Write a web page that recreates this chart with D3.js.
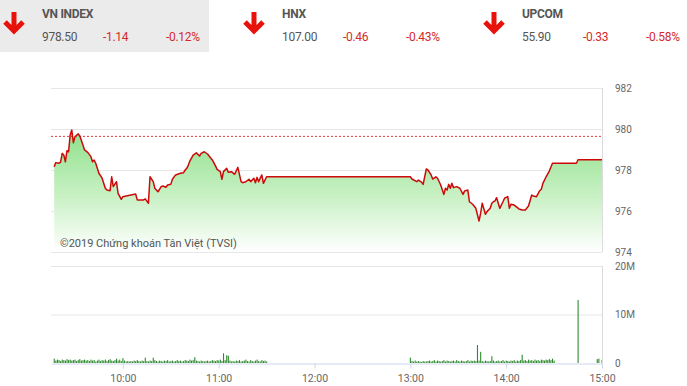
<!DOCTYPE html>
<html lang="vi">
<head>
<meta charset="UTF-8">
<title>VN INDEX</title>
<script src="https://cdn.jsdelivr.net/npm/d3@7"></script>
<style>
    body { margin: 0; background: #fff; font-family: Roboto, Arial, sans-serif; }
    svg { display: block; }
</style>
</head>
<body>
<svg id="chart" width="687" height="386"></svg>
<script>
// header quotes
const indexNames = ["VN INDEX", "HNX", "UPCOM"];
const indexValues = ["978.50", "107.00", "55.90"];
const indexChanges = ["-1.14", "-0.46", "-0.33"];
const indexPercents = ["-0.12%", "-0.43%", "-0.58%"];

// intraday VN-Index
const priceTimes = ["9:17","9:18","9:20","9:21","9:22","9:23","9:24","9:25","9:26","9:27","9:28","9:29","9:30","9:32","9:33","9:35","9:36","9:38","9:40","9:41","9:42","9:43","9:45","9:47","9:49","9:50","9:52","9:53","9:54","9:56","9:57","9:59",
  "10:00","10:02","10:05","10:08","10:09","10:13","10:14","10:16","10:17","10:19","10:20","10:22","10:24","10:25","10:27","10:28","10:30","10:31","10:33","10:36","10:38","10:39","10:40","10:41","10:42","10:44","10:46","10:48","10:49","10:51","10:53","10:56","10:58","10:59",
  "11:01","11:02","11:03","11:05","11:06","11:08","11:10","11:12","11:14","11:15","11:17","11:19","11:20","11:22","11:23","11:24","11:25","11:27","11:28","11:30",
  "13:00","13:01","13:04","13:05","13:07","13:08","13:10","13:11","13:13","13:14","13:16","13:17","13:19","13:21","13:22","13:23","13:24","13:25","13:26","13:27","13:29","13:31","13:33","13:34","13:36","13:37","13:39","13:41","13:43","13:44","13:45","13:47","13:48","13:50","13:51","13:52","13:53","13:54","13:56","13:58","13:59",
  "14:01","14:02","14:03","14:05","14:08","14:10","14:12","14:14","14:16","14:17","14:19","14:21","14:22","14:23","14:25","14:27","14:29","14:30","14:44","14:45","15:00"];
const priceValues = [978.16,978.36,978.33,978.38,978.81,978.73,978.40,978.94,978.89,979.71,979.95,979.33,979.62,979.76,979.67,979.22,978.98,978.86,978.65,978.40,978.49,978.33,977.84,977.60,977.11,977.02,976.99,977.67,977.19,977.43,976.86,976.57,
  976.70,976.73,976.78,976.83,976.54,976.54,976.59,976.38,977.67,977.43,977.11,976.94,977.19,977.22,977.16,977.27,977.30,977.55,977.76,977.84,977.87,978.00,978.08,978.24,978.45,978.73,978.84,978.68,978.81,978.89,978.78,978.49,978.20,978.03,
  977.92,977.55,977.92,978.08,977.89,977.92,977.79,978.13,977.43,977.38,977.43,977.55,977.43,977.60,977.38,977.64,977.43,977.76,977.35,977.67,
  977.67,977.56,977.43,977.51,977.41,977.30,978.05,978.00,977.76,977.56,977.67,977.60,977.27,976.81,977.11,977.02,977.30,977.11,977.35,977.14,977.19,977.11,976.81,976.98,977.02,976.45,976.33,976.13,975.51,975.89,976.38,975.84,975.97,976.13,976.38,976.45,976.49,976.65,976.13,976.45,976.62,
  976.70,976.13,976.33,976.29,976.10,976.05,976.05,976.24,976.78,976.73,976.70,976.99,977.06,977.35,977.67,977.95,978.33,978.33,978.33,978.50,978.50];
const refValue = 979.64;
const priceTicks = [974, 976, 978, 980, 982];

// volume (millions), one bar per minute
const volAmStart = "9:17";
const volAm = [
  0.9,0.5,0.7,0.6,0.4,0.7,0.6,0.5,0.8,0.6,
  0.7,0.5,0.6,0.7,0.4,0.6,0.8,0.5,0.6,0.7,
  0.5,0.6,0.4,0.7,0.5,0.6,0.3,0.5,0.7,0.4,
  0.6,0.5,0.7,0.4,0.6,0.8,0.5,0.4,0.6,0.9,
  0.5,0.7,0.4,1.0,0.5,0.3,0.4,0.3,0.4,0.3,
  0.5,0.4,0.6,0.4,0.3,0.5,0.4,1.1,0.4,0.3,
  0.5,0.4,1.1,0.6,0.4,0.3,0.5,0.4,0.3,0.5,
  0.4,0.6,0.3,0.4,0.5,0.3,0.4,0.6,0.4,0.5,
  0.3,0.4,0.6,0.5,0.4,0.7,0.5,0.6,1.2,0.5,
  0.4,0.3,0.5,0.4,0.3,0.4,0.5,0.3,0.4,0.6,
  0.5,0.4,0.6,0.5,0.7,0.4,2.0,0.6,1.6,1.5,
  0.5,0.3,0.4,0.3,0.5,0.4,0.6,0.3,0.4,0.5,
  0.7,0.4,0.3,0.6,0.4,0.3,0.5,0.7,0.4,0.3,
  0.6,0.4,0.5,0.3];
const volPmStart = "13:00";
const volPm = [
  1.1,0.4,0.3,0.5,0.3,0.4,0.3,0.2,0.4,0.3,
  0.3,0.4,0.5,0.3,0.4,0.6,0.3,0.5,0.4,0.3,
  0.4,0.6,0.3,0.5,0.4,0.3,0.4,0.5,0.3,0.6,
  0.4,0.3,0.5,0.4,0.3,0.4,0.6,0.3,0.5,0.4,
  0.5,0.4,3.7,0.5,2.3,0.4,0.3,0.5,0.4,0.3,
  0.4,1.4,0.5,0.3,0.4,0.5,0.3,0.4,0.6,0.3,
  0.5,0.4,0.3,0.5,0.4,0.6,0.3,0.5,0.4,0.6,
  1.7,0.5,0.6,0.4,0.7,0.5,0.6,0.4,0.7,0.5,
  0.6,0.4,0.7,0.6,0.5,0.7,0.6,0.8,0.6,0.9,
  0.5];
const volCloseTimes = ["14:45", "14:57", "14:58", "15:00"];
const volCloseValues = [13.0, 0.8, 0.9, 0.6];
const volTicks = [0, 10, 20];
const volTickLabels = ["0", "10M", "20M"];
const timeTicks = ["10:00", "11:00", "12:00", "13:00", "14:00", "15:00"];

const toMin = s => { const [h, m] = s.split(":").map(Number); return h * 60 + m; };
const fmtTime = m => Math.floor(m / 60) + ":" + String(m % 60).padStart(2, "0");

const svg = d3.select("#chart");
const left = 51, right = 602;

// ---------- header ----------
svg.append("rect").attr("x", 0).attr("y", 0).attr("width", 209).attr("height", 52).attr("fill", "#ebebeb");

indexNames.forEach((name, i) => {
    const g = svg.append("g").attr("transform", `translate(${i * 240},0)`);
    g.append("path")
        .attr("d", "M14,12 L14,31 M5,22 L14,31 L23,22")
        .attr("fill", "none").attr("stroke", "#e8120c")
        .attr("stroke-width", 5).attr("stroke-linejoin", "miter");
    g.append("text").attr("x", 42).attr("y", 18).text(name)
        .attr("font-size", 12).attr("font-weight", "bold").attr("fill", "#555").attr("letter-spacing", -0.3);
    g.append("text").attr("x", 42).attr("y", 41).text(indexValues[i])
        .attr("font-size", 12).attr("fill", "#555").attr("letter-spacing", -0.3);
    g.append("text").attr("x", 103).attr("y", 41).text(indexChanges[i])
        .attr("font-size", 12).attr("fill", "#d42a2a").attr("letter-spacing", -0.3);
    g.append("text").attr("x", 166).attr("y", 41).text(indexPercents[i])
        .attr("font-size", 12).attr("fill", "#d42a2a").attr("letter-spacing", -0.3);
});

// ---------- price chart ----------
const x = d3.scaleLinear().domain([toMin("9:15"), toMin("15:00")]).range([left, right]);
const y = d3.scaleLinear().domain([974, 982]).range([252, 88]);

const priceData = priceTimes.map((t, i) => ({ t: toMin(t), v: priceValues[i] }));

const defs = svg.append("defs");
const grad = defs.append("linearGradient").attr("id", "fillGrad")
    .attr("gradientUnits", "userSpaceOnUse").attr("x1", 0).attr("x2", 0).attr("y1", y(980)).attr("y2", y(974));
grad.append("stop").attr("offset", 0).attr("stop-color", "#8ee08a");
grad.append("stop").attr("offset", 0.55).attr("stop-color", "#c9f1c5");
grad.append("stop").attr("offset", 1).attr("stop-color", "#ffffff");

svg.append("g").selectAll("line").data(priceTicks).join("line")
    .attr("x1", left).attr("x2", right)
    .attr("y1", d => y(d) + 0.5).attr("y2", d => y(d) + 0.5)
    .attr("stroke", "#e6e6e6");

svg.append("path").datum(priceData)
    .attr("fill", "url(#fillGrad)")
    .attr("d", d3.area().x(d => x(d.t)).y0(y(974)).y1(d => y(d.v)));

svg.append("line")
    .attr("x1", left).attr("x2", right)
    .attr("y1", y(refValue)).attr("y2", y(refValue))
    .attr("stroke", "#e23b3b").attr("stroke-width", 1).attr("stroke-dasharray", "2,2");

svg.append("path").datum(priceData)
    .attr("fill", "none").attr("stroke", "#cc0a0a").attr("stroke-width", 1.5)
    .attr("stroke-linejoin", "round")
    .attr("d", d3.line().x(d => x(d.t)).y(d => y(d.v)));

svg.append("line").attr("x1", right + 0.5).attr("x2", right + 0.5).attr("y1", y(982)).attr("y2", y(974))
    .attr("stroke", "#dcdcdc");

const yAxis = svg.append("g").attr("transform", `translate(${right},0)`)
    .call(d3.axisRight(y).tickValues(priceTicks).tickSize(0).tickPadding(13));
yAxis.select(".domain").remove();
yAxis.selectAll("text").attr("font-family", "Roboto, Arial, sans-serif").attr("font-size", 10).attr("fill", "#666");

svg.append("text").attr("x", 60).attr("y", 247)
    .text("©2019 Chứng khoán Tân Việt (TVSI)")
    .attr("font-size", 11).attr("fill", "#555");

// ---------- volume chart ----------
const yv = d3.scaleLinear().domain([0, 20]).range([363, 266]);

const volData = [
    ...volAm.map((v, i) => ({ t: toMin(volAmStart) + i, v })),
    ...volPm.map((v, i) => ({ t: toMin(volPmStart) + i, v })),
    ...volCloseTimes.map((t, i) => ({ t: toMin(t), v: volCloseValues[i] }))
];

svg.append("g").selectAll("line").data(volTicks.slice(1)).join("line")
    .attr("x1", left).attr("x2", right)
    .attr("y1", d => yv(d) + 0.5).attr("y2", d => yv(d) + 0.5)
    .attr("stroke", "#e6e6e6");

svg.append("g").selectAll("rect").data(volData).join("rect")
    .attr("x", d => x(d.t) - 0.5)
    .attr("width", 1.1)
    .attr("y", d => yv(d.v))
    .attr("height", d => yv(0) - yv(d.v))
    .attr("fill", "#2e8b2e");

svg.append("line").attr("x1", right + 0.5).attr("x2", right + 0.5).attr("y1", yv(20)).attr("y2", yv(0))
    .attr("stroke", "#dcdcdc");

const vAxis = svg.append("g").attr("transform", `translate(${right},0)`)
    .call(d3.axisRight(yv).tickValues(volTicks).tickSize(0).tickPadding(13)
        .tickFormat((d, i) => volTickLabels[i]));
vAxis.select(".domain").remove();
vAxis.selectAll("text").attr("font-family", "Roboto, Arial, sans-serif").attr("font-size", 10).attr("fill", "#666");

const xAxis = svg.append("g").attr("transform", `translate(0,${yv(0) + 0.5})`)
    .call(d3.axisBottom(x).tickValues(timeTicks.map(toMin)).tickSize(5).tickSizeOuter(0).tickPadding(6)
        .tickFormat(fmtTime));
xAxis.select(".domain").attr("stroke", "#ccd6eb");
xAxis.selectAll(".tick line").attr("stroke", "#ccd6eb");
xAxis.selectAll("text").attr("font-family", "Roboto, Arial, sans-serif").attr("font-size", 10.5).attr("fill", "#666");
</script>
</body>
</html>
